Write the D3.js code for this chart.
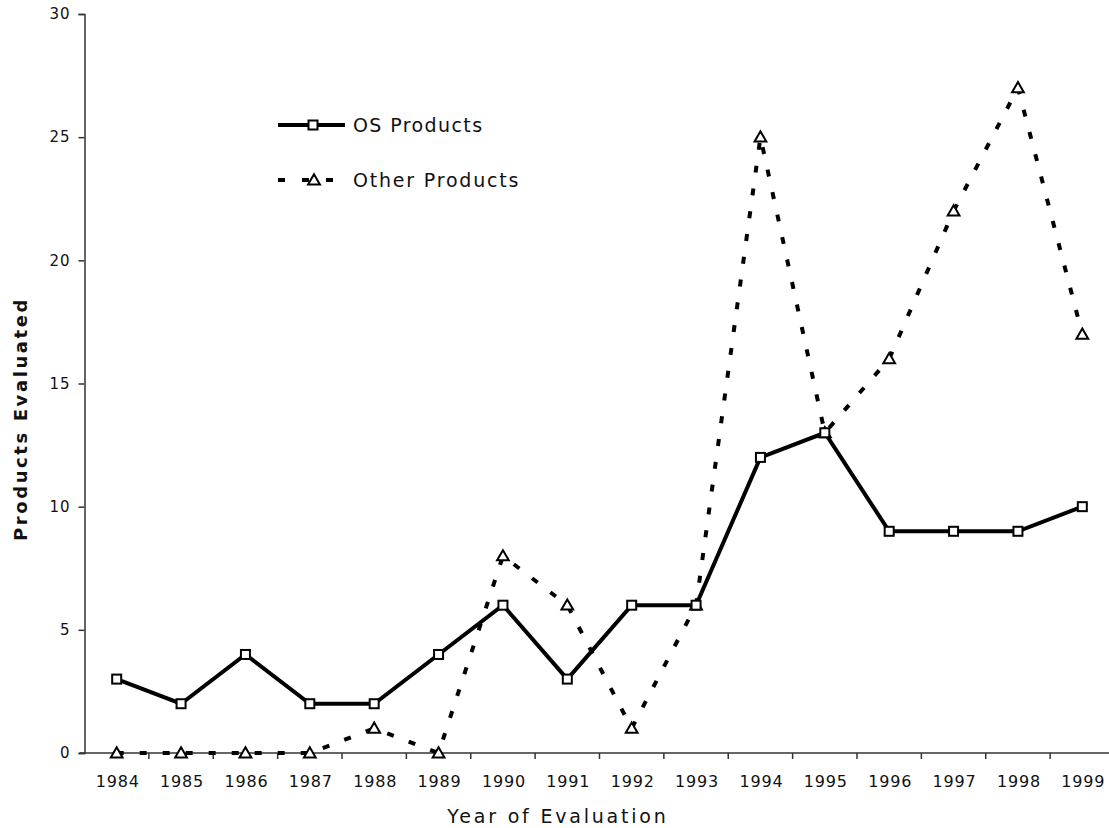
<!DOCTYPE html>
<html>
<head>
<meta charset="utf-8">
<script src="https://cdn.jsdelivr.net/npm/d3@7"></script>
<style>
  html, body { margin: 0; padding: 0; background: #fff; }
  svg { display: block; }
  text { font-family: "DejaVu Sans", Verdana, sans-serif; fill: #111; }
</style>
</head>
<body>
<svg id="chart" width="1109" height="828"></svg>
<script>
const years = ["1984","1985","1986","1987","1988","1989","1990","1991","1992","1993","1994","1995","1996","1997","1998","1999"];
const osProducts = [3,2,4,2,2,4,6,3,6,6,12,13,9,9,9,10];
const otherProducts = [0,0,0,0,1,0,8,6,1,6,25,13,16,22,27,17];
const yTicks = [0,5,10,15,20,25,30];
const seriesNames = ["OS Products","Other Products"];
const axisTitles = {x: "Year of Evaluation", y: "Products Evaluated"};

(function () {
const svg = d3.select("#chart");
const pLeft = 84.5, pRight = 1114.5, pTop = 14, pBottom = 753;

const x = d3.scaleBand().domain(years).range([pLeft, pRight]).padding(0);
const y = d3.scaleLinear().domain([0, 30]).range([pBottom, pTop]);
const cx = d => x(d) + x.bandwidth() / 2;

// Y axis
const yAxis = d3.axisLeft(y).tickValues(yTicks).tickSize(6).tickPadding(8).tickFormat(d3.format("d"));
const gy = svg.append("g").attr("transform", `translate(${pLeft},0)`).call(yAxis);
gy.select(".domain").attr("stroke", "#333").attr("stroke-width", 1.5);
gy.selectAll(".tick line").attr("stroke", "#333").attr("stroke-width", 1.5);
gy.selectAll(".tick text").attr("font-size", 15).attr("letter-spacing", 1).attr("fill", "#111")
  .attr("font-family", "DejaVu Sans, sans-serif");

// X axis: labels at centers, ticks at band edges
const xAxis = d3.axisBottom(x).tickSize(0).tickPadding(23);
const gx = svg.append("g").attr("transform", `translate(0,${pBottom})`).call(xAxis);
gx.select(".domain").remove();
gx.selectAll(".tick text").attr("font-size", 16).attr("letter-spacing", 0.8).attr("fill", "#111")
  .attr("font-family", "DejaVu Sans, sans-serif").attr("dx", 1);
svg.append("line").attr("x1", pLeft - 5).attr("x2", 1109).attr("y1", pBottom).attr("y2", pBottom)
  .attr("stroke", "#333").attr("stroke-width", 1.5);
svg.append("g").selectAll("line").data(years).join("line")
  .attr("x1", d => x(d) + x.bandwidth()).attr("x2", d => x(d) + x.bandwidth())
  .attr("y1", pBottom).attr("y2", pBottom + 6)
  .attr("stroke", "#333").attr("stroke-width", 1.5);

// Axis titles
svg.append("text").attr("x", 558).attr("y", 823).attr("text-anchor", "middle")
  .attr("font-size", 19).attr("letter-spacing", 2.8).text(axisTitles.x);
svg.append("text").attr("transform", "translate(27,419) rotate(-90)").attr("text-anchor", "middle")
  .attr("font-size", 18).attr("font-weight", "bold").attr("letter-spacing", 2.6).text(axisTitles.y);

// Lines
const line = (vals) => d3.line().x((d, i) => cx(years[i])).y(d => y(d))(vals);
svg.append("path").attr("d", line(otherProducts)).attr("fill", "none")
  .attr("stroke", "#000").attr("stroke-width", 4).attr("stroke-dasharray", "7,16");
svg.append("path").attr("d", line(osProducts)).attr("fill", "none")
  .attr("stroke", "#000").attr("stroke-width", 4).attr("stroke-linejoin", "miter");

const tri = d3.symbol().type(d3.symbolTriangle).size(60);
function drawTriangle(g, px, py) {
  g.append("path").attr("d", tri()).attr("transform", `translate(${px},${py + 1})`)
    .attr("fill", "#fff").attr("stroke", "#000").attr("stroke-width", 2);
}
function drawSquare(g, px, py) {
  g.append("rect").attr("x", px - 4.5).attr("y", py - 4.5).attr("width", 9).attr("height", 9)
    .attr("fill", "#fff").attr("stroke", "#000").attr("stroke-width", 2);
}

const gm = svg.append("g");
otherProducts.forEach((v, i) => drawTriangle(gm, cx(years[i]), y(v)));
osProducts.forEach((v, i) => drawSquare(gm, cx(years[i]), y(v)));

// Legend
const lg = svg.append("g");
lg.append("line").attr("x1", 278).attr("x2", 345).attr("y1", 125).attr("y2", 125)
  .attr("stroke", "#000").attr("stroke-width", 4);
drawSquare(lg, 313, 125);
lg.append("text").attr("x", 353).attr("y", 132).attr("font-size", 19).attr("letter-spacing", 1.4).text(seriesNames[0]);

lg.append("line").attr("x1", 278).attr("x2", 333).attr("y1", 180).attr("y2", 180)
  .attr("stroke", "#000").attr("stroke-width", 4).attr("stroke-dasharray", "7,17");
drawTriangle(lg, 314, 180);
lg.append("text").attr("x", 353).attr("y", 187).attr("font-size", 19).attr("letter-spacing", 1.8).text(seriesNames[1]);
})();
</script>
</body>
</html>
